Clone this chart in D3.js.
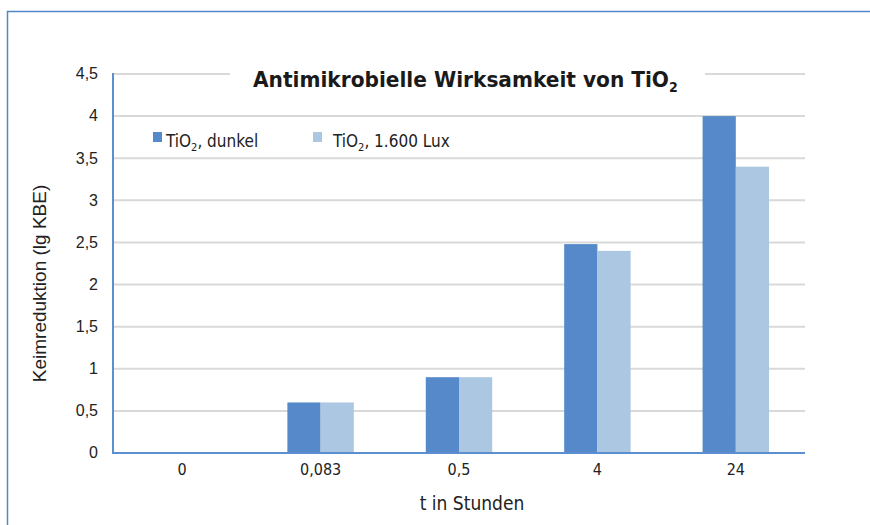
<!DOCTYPE html>
<html><head><meta charset="utf-8">
<script src="https://cdn.jsdelivr.net/npm/d3@7"></script>
<style>body{margin:0;background:#fff}svg{display:block}</style>
</head><body>
<script>
const categories = ["0", "0,083", "0,5", "4", "24"];
const seriesNames = ["dunkel", "1.600 Lux"];
const darkValues = [0, 0.6, 0.9, 2.48, 4.0];
const lightValues = [0, 0.6, 0.9, 2.4, 3.4];
const yTicks = [0, 0.5, 1, 1.5, 2, 2.5, 3, 3.5, 4, 4.5];
const colors = ["#5589c9", "#abc7e1"];

const W = 870, H = 525;
const svg = d3.select("body").append("svg").attr("width", W).attr("height", H);
const m = {left: 113, right: 805, top: 74, bottom: 453};

// frame
svg.append("path").attr("d", `M7.5,${H} L7.5,11.5 L${W},11.5`).attr("fill","none").attr("stroke","#4f87c7").attr("stroke-width",1.5);

const x = d3.scaleBand().domain(categories).range([m.left, m.right]).paddingInner(0.52).paddingOuter(0.26);
const y = d3.scaleLinear().domain([0, 4.5]).range([m.bottom, m.top]);
const fmt = v => String(v).replace(".", ",");

// grid
svg.append("g").selectAll("line").data(yTicks.filter(d => d > 0)).join("line")
  .attr("x1", m.left).attr("x2", m.right).attr("y1", d => y(d)).attr("y2", d => y(d))
  .attr("stroke", "#d9d9d9").attr("stroke-width", 2);

// bars
const data = categories.map((c, i) => ({c, v: [darkValues[i], lightValues[i]]}));
const sub = d3.scaleBand().domain([0, 1]).range([0, x.bandwidth()]);
const g = svg.append("g");
data.forEach(d => {
  d.v.forEach((v, k) => {
    if (v <= 0) return;
    g.append("rect").attr("x", x(d.c) + sub(k)).attr("width", sub.bandwidth())
      .attr("y", y(v)).attr("height", y(0) - y(v)).attr("fill", colors[k]);
  });
});

// y axis
const yAxis = d3.axisLeft(y).tickValues(yTicks).tickFormat(fmt).tickSize(0).tickPadding(15);
const ya = svg.append("g").attr("transform", `translate(${m.left},0)`).call(yAxis);
ya.select(".domain").remove();
ya.selectAll("text").attr("font-family", "Liberation Sans, Arial, sans-serif").attr("font-size", 16).attr("fill", "#222").attr("dy", "0.3em");
svg.append("line").attr("x1", m.left).attr("x2", m.left).attr("y1", m.top - 1).attr("y2", m.bottom + 1)
  .attr("stroke", "#5b8fcf").attr("stroke-width", 2);

// x axis
const xAxis = d3.axisBottom(x).tickSize(0).tickPadding(11);
const xa = svg.append("g").attr("transform", `translate(0,${m.bottom})`).call(xAxis);
xa.select(".domain").remove();
xa.selectAll("text").attr("font-family", "DejaVu Sans Condensed, Roboto, sans-serif").attr("font-size", 16).attr("fill", "#222");
svg.append("line").attr("x1", m.left - 1).attr("x2", m.right).attr("y1", m.bottom).attr("y2", m.bottom)
  .attr("stroke", "#5b8fcf").attr("stroke-width", 2);

// axis titles
svg.append("text").attr("transform", `translate(46,${(m.top + m.bottom) / 2 + 20}) rotate(-90)`)
  .attr("text-anchor", "middle").attr("font-family", "Liberation Sans, Arial, sans-serif").attr("font-size", 19).attr("fill", "#222")
  .text("Keimreduktion (lg KBE)");
svg.append("text").attr("x", 472).attr("y", 510).attr("text-anchor", "middle")
  .attr("font-family", "DejaVu Sans Condensed, Roboto, sans-serif").attr("font-size", 19).attr("fill", "#222")
  .text("t in Stunden");

// title
svg.append("rect").attr("x", 230).attr("y", 64).attr("width", 475).attr("height", 32).attr("fill", "#fff");
const t = svg.append("text").attr("x", 253).attr("y", 87)
  .attr("font-family", "DejaVu Sans Condensed, Roboto, sans-serif").attr("font-weight", "bold").attr("font-size", 21).attr("fill", "#1a1a1a");
t.append("tspan").attr("textLength", 416).attr("lengthAdjust", "spacingAndGlyphs").text("Antimikrobielle Wirksamkeit von TiO");
t.append("tspan").attr("dy", 5).attr("font-size", 14).text("2");

// legend
const legX = [153, 313];
seriesNames.forEach((n, k) => {
  svg.append("rect").attr("x", legX[k]).attr("y", 132).attr("width", 9).attr("height", 10).attr("fill", colors[k]);
  const lt = svg.append("text").attr("x", legX[k] + (k === 0 ? 13 : 20)).attr("y", 147)
    .attr("font-family", "DejaVu Sans Condensed, Roboto, sans-serif").attr("font-size", 17).attr("fill", "#222");
  lt.append("tspan").text("TiO");
  lt.append("tspan").attr("dy", 4).attr("font-size", 11).text("2");
  lt.append("tspan").attr("dy", -4).text(", " + n);
});
</script>
</body></html>
